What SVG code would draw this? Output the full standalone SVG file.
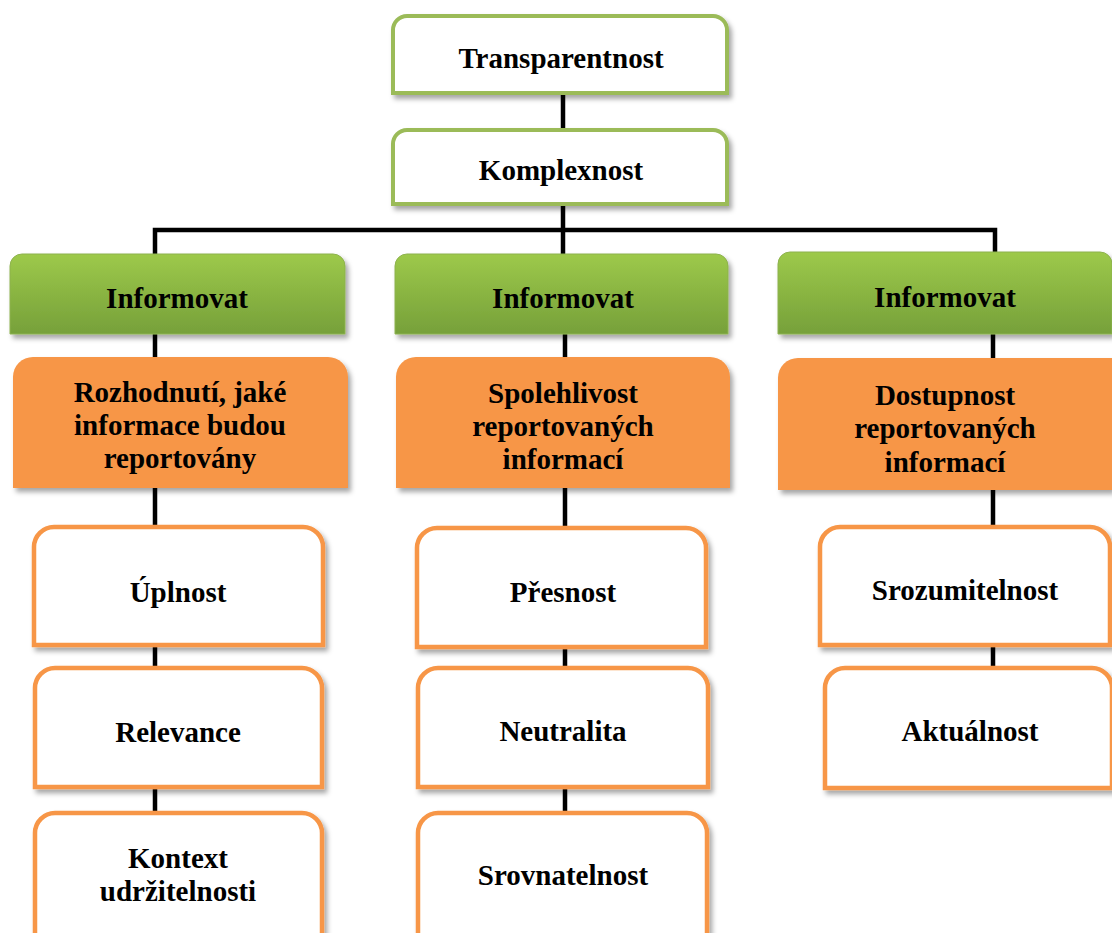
<svg xmlns="http://www.w3.org/2000/svg" width="1112" height="933" viewBox="0 0 1112 933">
<defs>
<linearGradient id="gg" x1="0" y1="0" x2="0" y2="1">
<stop offset="0" stop-color="#9DC94A"/>
<stop offset="1" stop-color="#76A03A"/>
</linearGradient>
<filter id="sh" x="-10%" y="-10%" width="125%" height="130%">
<feDropShadow dx="3" dy="4" stdDeviation="2.5" flood-color="#000" flood-opacity="0.35"/>
</filter>
</defs>
<style>
.t{font-family:"Liberation Serif","Times New Roman",serif;font-weight:bold;font-size:29px;fill:#000;text-anchor:middle}
.top{fill:#fff;stroke:#9BBB59;stroke-width:4;filter:url(#sh)}
.grn{fill:url(#gg);stroke:#8DB24E;stroke-width:1;filter:url(#sh)}
.org{fill:#F79646;filter:url(#sh)}
.wht{fill:#fff;stroke:#F79646;stroke-width:4.5;filter:url(#sh)}
.c{stroke:#000;stroke-width:4.5;fill:none}
</style>
<g id="connectors">
<path class="c" d="M563 93V130"/>
<path class="c" d="M563 203V254"/>
<path class="c" d="M155 254V230H995V254"/>
<path class="c" d="M155 333V357M155 488V527M155 645V668M155 787V813"/>
<path class="c" d="M565 333V357M565 488V528M565 647V668M565 787V813"/>
<path class="c" d="M993 333V358M993 490V527M993 645V668"/>
</g>
<g id="n-transparentnost"><path class="top" d="M393 93V30A14 14 0 0 1 407 16H713A14 14 0 0 1 727 30V93Z"/><text class="t" x="561" y="68">Transparentnost</text></g>
<g id="n-komplexnost"><path class="top" d="M393 204V144A14 14 0 0 1 407 130H713A14 14 0 0 1 727 144V204Z"/><text class="t" x="561" y="180">Komplexnost</text></g>
<g id="n-inf1"><path class="grn" d="M10 334V266A12 12 0 0 1 22 254H333A12 12 0 0 1 345 266V334Z"/><text class="t" x="177" y="308">Informovat</text></g>
<g id="n-inf2"><path class="grn" d="M395 334V266A12 12 0 0 1 407 254H716A12 12 0 0 1 728 266V334Z"/><text class="t" x="563" y="308">Informovat</text></g>
<g id="n-inf3"><path class="grn" d="M778 334V264A12 12 0 0 1 790 252H1100A12 12 0 0 1 1112 264V334Z"/><text class="t" x="945" y="307">Informovat</text></g>
<g id="n-rozhodnuti"><path class="org" d="M13 488V377A20 20 0 0 1 33 357H328A20 20 0 0 1 348 377V488Z"/><text class="t" x="180" y="402">Rozhodnutí, jaké</text><text class="t" x="180" y="435">informace budou</text><text class="t" x="180" y="468">reportovány</text></g>
<g id="n-spolehlivost"><path class="org" d="M396 488V377A20 20 0 0 1 416 357H710A20 20 0 0 1 730 377V488Z"/><text class="t" x="563" y="403">Spolehlivost</text><text class="t" x="563" y="436">reportovaných</text><text class="t" x="563" y="469">informací</text></g>
<g id="n-dostupnost"><path class="org" d="M778 490V378A20 20 0 0 1 798 358H1112V490Z"/><text class="t" x="945" y="405">Dostupnost</text><text class="t" x="945" y="438">reportovaných</text><text class="t" x="945" y="472">informací</text></g>
<g id="n-uplnost"><path class="wht" d="M34 645V547A20 20 0 0 1 54 527H303A20 20 0 0 1 323 547V645Z"/><text class="t" x="178" y="602">Úplnost</text></g>
<g id="n-relevance"><path class="wht" d="M35 787V688A20 20 0 0 1 55 668H302A20 20 0 0 1 322 688V787Z"/><text class="t" x="178" y="742">Relevance</text></g>
<g id="n-kontext"><path class="wht" d="M35 940V833A20 20 0 0 1 55 813H302A20 20 0 0 1 322 833V940Z"/><text class="t" x="178" y="868">Kontext</text><text class="t" x="178" y="901">udržitelnosti</text></g>
<g id="n-presnost"><path class="wht" d="M417 647V548A20 20 0 0 1 437 528H686A20 20 0 0 1 706 548V647Z"/><text class="t" x="563" y="602">Přesnost</text></g>
<g id="n-neutralita"><path class="wht" d="M418 787V688A20 20 0 0 1 438 668H688A20 20 0 0 1 708 688V787Z"/><text class="t" x="563" y="741">Neutralita</text></g>
<g id="n-srovnatelnost"><path class="wht" d="M418 940V833A20 20 0 0 1 438 813H687A20 20 0 0 1 707 833V940Z"/><text class="t" x="563" y="885">Srovnatelnost</text></g>
<g id="n-srozumitelnost"><path class="wht" d="M820 645V547A20 20 0 0 1 840 527H1090A20 20 0 0 1 1110 547V645Z"/><text class="t" x="965" y="600">Srozumitelnost</text></g>
<g id="n-aktualnost"><path class="wht" d="M825 788V688A20 20 0 0 1 845 668H1092A20 20 0 0 1 1112 688V788Z"/><text class="t" x="970" y="741">Aktuálnost</text></g>
</svg>
